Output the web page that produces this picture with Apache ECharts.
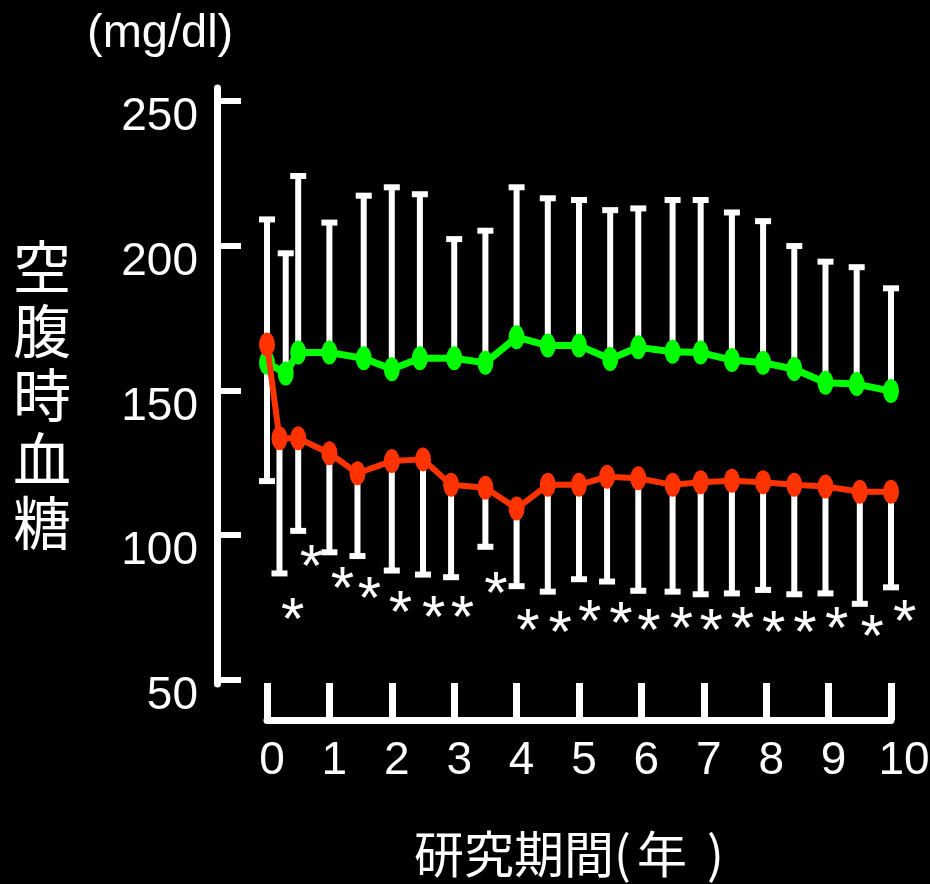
<!DOCTYPE html>
<html>
<head>
<meta charset="utf-8">
<style>
  html, body { margin: 0; padding: 0; background: #000; }
  #chart { width: 930px; height: 884px; }
</style>
<script src="https://cdn.jsdelivr.net/npm/echarts@6/dist/echarts.min.js"></script>
</head>
<body>
<div id="chart"></div>
<script>
// Fasting plasma glucose over the 10-year study period (mg/dl)
const yTicks = [50, 100, 150, 200, 250];
const xTicks = [0, 1, 2, 3, 4, 5, 6, 7, 8, 9, 10];

// Conventional-therapy group (green): mean and upper bound (mean + SD)
const greenYears = [0, 0.3, 0.5, 1, 1.55, 2, 2.45, 3, 3.5, 4, 4.5, 5, 5.5, 5.95, 6.5, 6.95, 7.45, 7.95, 8.45, 8.95, 9.45, 10];
const greenMean  = [159.6, 155.9, 163.1, 163.1, 161.1, 157.3, 161.1, 161.1, 159.6, 168.4, 165.5, 165.5, 160.9, 164.9, 163.4, 163.1, 160.5, 159.6, 157.4, 152.7, 152.2, 149.8];
const greenUpper = [209.1, 197.4, 224.1, 208.0, 217.3, 220.2, 217.8, 202.3, 205.2, 220.2, 216.4, 215.8, 212.3, 212.9, 215.8, 215.8, 211.5, 208.5, 199.9, 194.5, 192.6, 185.3];

// Intensive-therapy group (red): mean and lower bound (mean - SD)
const redYears = [0, 0.2, 0.5, 1, 1.45, 2, 2.5, 2.95, 3.5, 4, 4.5, 5, 5.45, 5.95, 6.5, 6.95, 7.45, 7.95, 8.45, 8.95, 9.5, 10];
const redMean  = [165.9, 133.5, 133.5, 128.3, 121.4, 125.6, 126.2, 117.4, 116.4, 109.2, 117.4, 117.4, 120.2, 119.7, 117.4, 118.3, 118.8, 118.3, 117.4, 116.8, 115.0, 115.0];
const redLower = [118.7, 86.8, 101.5, 94.1, 92.8, 87.8, 86.4, 85.5, 96.0, 82.4, 80.5, 84.8, 84.0, 80.8, 80.5, 79.6, 79.9, 81.1, 79.6, 79.9, 76.3, 82.0];

// Significance markers placed beside each follow-up visit
const starYears  = [0.41, 0.71, 1.21, 1.64, 2.14, 2.67, 3.13, 3.67, 4.18, 4.70, 5.17, 5.67, 6.12, 6.64, 7.12, 7.62, 8.12, 8.62, 9.13, 9.70, 10.22];
const starLevels = [74.9, 93.2, 85.7, 82.2, 77.6, 75.9, 75.9, 84.0, 71.3, 70.7, 74.2, 73.6, 71.3, 71.9, 71.3, 71.9, 70.7, 70.7, 71.9, 69.0, 74.2];

const LATIN = '"Liberation Sans", Arial, Helvetica, sans-serif';
const CJK = '"Noto Sans CJK JP", "Noto Sans CJK SC", sans-serif';
const GREEN = '#00ff00';
const RED = '#ff3300';

function zip(a, b) { return a.map((v, i) => [v, b[i]]); }
function zip3(a, b, c) { return a.map((v, i) => [v, b[i], c[i]]); }

// Error bar: stem from the mean to the bound, with a short cap at the bound
function errorBar(params, api) {
  const p = api.coord([api.value(0), api.value(1)]);
  const e = api.coord([api.value(0), api.value(2)]);
  const style = { stroke: '#fff', lineWidth: 6, lineCap: 'butt' };
  return {
    type: 'group',
    children: [
      { type: 'line', shape: { x1: p[0], y1: p[1], x2: e[0], y2: e[1] }, style },
      { type: 'line', shape: { x1: e[0] - 8, y1: e[1], x2: e[0] + 8, y2: e[1] }, style }
    ]
  };
}

const chart = echarts.init(document.getElementById('chart'), null, { renderer: 'canvas' });

chart.setOption({
  backgroundColor: '#000',
  animation: false,
  grid: { left: 267, right: 39, top: 88, bottom: 200, outerBoundsMode: 'none', containLabel: false },
  xAxis: {
    type: 'value',
    min: 0, max: 10, interval: 1,
    offset: 36,
    axisLine: { show: true, onZero: false, lineStyle: { color: '#fff', width: 7 } },
    axisTick: { show: true, inside: true, length: 37, lineStyle: { color: '#fff', width: 7 } },
    axisLabel: {
      color: '#fff', fontSize: 46, fontFamily: LATIN, margin: 18,
      customValues: xTicks,
      formatter: v => (v === 10 ? '{e|' : '{t|') + v + '}',
      rich: {
        t: { color: '#fff', fontSize: 46, fontFamily: LATIN, padding: [0, 0, 0, 10] },
        e: { color: '#fff', fontSize: 46, fontFamily: LATIN, padding: [0, 0, 0, 26] }
      }
    },
    splitLine: { show: false }
  },
  yAxis: {
    type: 'value',
    min: 48.6, max: 254.5,
    offset: 50,
    axisLine: { show: true, onZero: false, lineStyle: { color: '#fff', width: 7 } },
    axisTick: { show: true, inside: true, length: 24, customValues: yTicks, lineStyle: { color: '#fff', width: 6 } },
    axisLabel: {
      color: '#fff', fontSize: 46, fontFamily: LATIN, margin: 19,
      customValues: yTicks,
      formatter: v => '{t|' + v + '}',
      rich: { t: { color: '#fff', fontSize: 46, fontFamily: LATIN, padding: [33, 0, 0, 0] } }
    },
    splitLine: { show: false }
  },
  graphic: [
    {
      type: 'text', left: 87, top: 11,
      style: { text: '(mg/dl)', fill: '#fff', font: '47px ' + LATIN }
    },
    {
      type: 'text', x: 42, y: 395,
      style: {
        text: '空\n腹\n時\n血\n糖', fill: '#fff', font: '58px ' + CJK,
        lineHeight: 64, align: 'center', verticalAlign: 'middle'
      }
    },
    {
      type: 'text', left: 414, top: 829,
      style: {
        text: '{a|研究期間(}{b|年}{c|)}',
        rich: {
          a: { fill: '#fff', font: '50px ' + CJK },
          b: { fill: '#fff', font: '50px ' + CJK, padding: [0, 0, 0, 6] },
          c: { fill: '#fff', font: '50px ' + CJK, padding: [0, 0, 0, 20] }
        }
      }
    }
  ],
  series: [
    {
      type: 'custom', name: 'green SD', z: 1, clip: false,
      renderItem: errorBar,
      data: zip3(greenYears, greenMean, greenUpper)
    },
    {
      type: 'custom', name: 'red SD', z: 1, clip: false,
      renderItem: errorBar,
      data: zip3(redYears, redMean, redLower)
    },
    {
      type: 'line', name: 'conventional', z: 2, clip: false,
      data: zip(greenYears, greenMean),
      symbol: 'circle', symbolSize: [16, 24], showAllSymbol: true,
      lineStyle: { color: GREEN, width: 7 },
      itemStyle: { color: GREEN }
    },
    {
      type: 'line', name: 'intensive', z: 3, clip: false,
      data: zip(redYears, redMean),
      symbol: 'circle', symbolSize: [16, 24], showAllSymbol: true,
      lineStyle: { color: RED, width: 6 },
      itemStyle: { color: RED }
    },
    {
      type: 'scatter', name: 'significance', z: 4, clip: false,
      data: zip(starYears, starLevels),
      symbolSize: 0,
      itemStyle: { color: '#000', opacity: 1 },
      label: {
        show: true, position: 'inside', formatter: '*',
        color: '#fff', fontSize: 60, fontFamily: LATIN,
        textBorderWidth: 0, offset: [0, 15]
      }
    }
  ]
});
</script>
</body>
</html>
